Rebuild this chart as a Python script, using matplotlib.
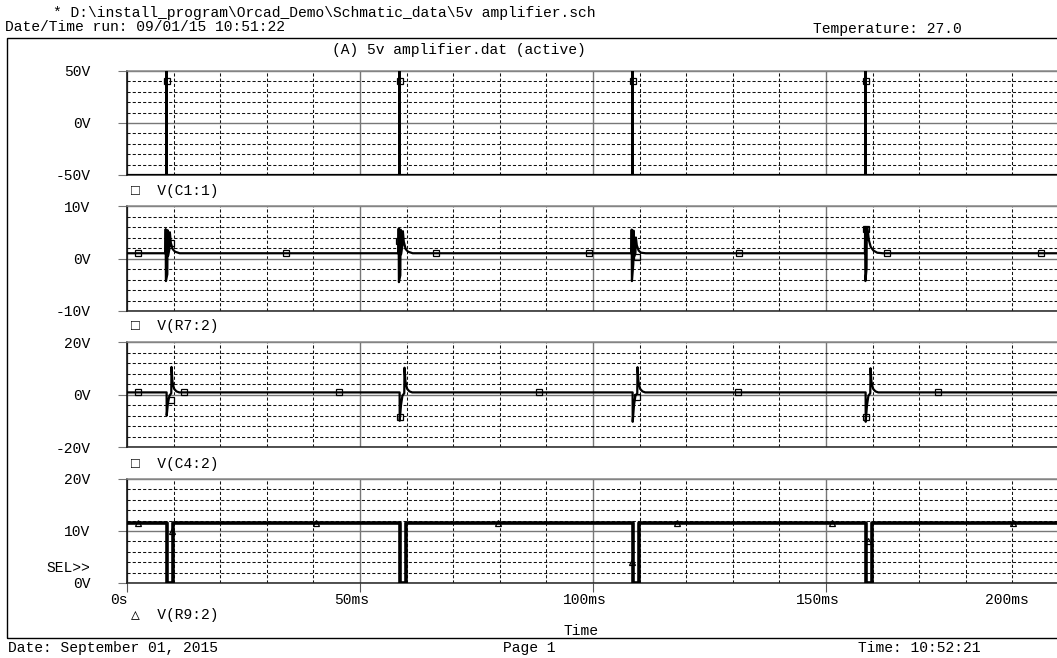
import matplotlib.pyplot as plt
from matplotlib.patches import Rectangle
from matplotlib.transforms import ScaledTranslation

W, H = 1057, 658
plt.rcParams['font.family'] = ['Liberation Mono', 'DejaVu Sans Mono']
plt.rcParams['font.size'] = 10.5

# ---- data (time in ms, volts) ----
# V(C1:1) - narrow pulses
c1_t = [0, 8.45, 8.5, 8.55, 58.45, 58.5, 58.55, 108.45, 108.5, 108.55, 158.45, 158.5, 158.55, 200]
c1_v = [-50, -50, 80, -50, -50, 80, -50, -50, 80, -50, -50, 80, -50, -50]
c1_mk_t = [8.6, 58.6, 108.6, 158.6]
c1_mk_v = [40, 40, 40, 40]

# V(R7:2)
r7_t = [0,
        8.25, 8.3, 8.35, 8.65, 8.7, 8.8, 9.1, 9.2, 9.4, 9.8, 10.3, 11.3,
        58.25, 58.3, 58.35, 58.65, 58.7, 58.8, 59.1, 59.2, 59.4, 59.8, 60.3, 61.3,
        108.25, 108.3, 108.35, 108.65, 108.7, 108.8, 109.1, 109.2, 109.4, 109.8, 110.3, 111.3,
        158.35, 158.4, 158.45, 158.7, 158.75, 158.9, 159.2, 159.6, 160.2, 161.0, 162.2,
        200]
r7_v = [1.0,
        1.0, 5.6, -4.3, -3.0, 5.4, 0.5, 1.8, 5.0, 3.0, 1.8, 1.3, 1.0,
        1.0, 5.7, -4.5, -3.2, 5.5, 0.8, 2.5, 5.2, 3.2, 1.8, 1.3, 1.0,
        1.0, 5.5, -4.3, -1.0, 5.3, 0.3, 1.0, 4.0, 2.5, 1.5, 1.1, 1.0,
        1.0, 6.0, -4.3, -2.0, 5.8, 5.8, 3.5, 2.2, 1.5, 1.1, 1.0,
        1.0]
r7_mk_t = [2.4, 9.4, 34.1, 58.4, 66.3, 99.1, 109.4, 131.3, 158.6, 163.1, 196.1]
r7_mk_v = [1.0, 3.0, 1.0, 3.4, 1.0, 1.0, 0.3, 1.0, 5.7, 1.0, 1.0]

# V(C4:2)
c4_t = [0,
        8.5, 8.52, 8.8, 9.1, 9.5, 9.55, 9.75, 10.1, 10.6, 11.2,
        58.5, 58.52, 58.8, 59.1, 59.5, 59.55, 59.75, 60.1, 60.6, 61.2,
        108.5, 108.52, 108.8, 109.1, 109.5, 109.55, 109.75, 110.1, 110.6, 111.2,
        158.5, 158.52, 158.8, 159.1, 159.5, 159.55, 159.75, 160.1, 160.6, 161.2,
        200]
c4_v = [0.8,
        0.8, -8.0, -3.0, -0.5, 0.5, 10.5, 5.0, 2.2, 1.2, 0.8,
        0.8, -10.0, -4.0, -0.5, 0.5, 10.2, 5.0, 2.2, 1.2, 0.8,
        0.8, -10.4, -4.0, -0.5, 0.5, 10.4, 5.0, 2.2, 1.2, 0.8,
        0.8, -10.4, -4.0, -0.5, 0.5, 10.0, 5.0, 2.2, 1.2, 0.8,
        0.8]
c4_mk_t = [2.4, 9.4, 12.3, 45.5, 58.6, 88.4, 109.4, 131.1, 158.6, 174.0]
c4_mk_v = [0.8, -2.0, 0.8, 0.8, -8.5, 0.8, -0.8, 0.8, -8.5, 0.8]

# V(R9:2)
r9_t = [0, 8.5, 8.5, 9.8, 9.8, 58.5, 58.5, 59.8, 59.8, 108.5, 108.5, 109.8, 109.8,
        158.5, 158.5, 158.6, 158.6, 159.8, 159.8, 200]
r9_v = [11.5, 11.5, 0, 0, 11.5, 11.5, 0, 0, 11.5, 11.5, 0, 0, 11.5,
        11.5, 5.0, 5.0, 0, 0, 11.5, 11.5]
r9_mk_t = [2.4, 9.7, 40.6, 79.6, 108.4, 118.0, 151.3, 159.0, 190.1]
r9_mk_v = [11.5, 10.0, 11.5, 11.5, 4.0, 11.5, 11.5, 8.0, 11.5]

x_ticks = [0, 50, 100, 150, 200]
x_labels = ['0s', '50ms', '100ms', '150ms', '200ms']

panels = [
    # (top px, bottom px, ymin, ymax, major ticks, labels, legend)
    (71, 175, -50, 50, [-50, 0, 50], ['-50V', '0V', '50V']),
    (206, 311, -10, 10, [-10, 0, 10], ['-10V', '0V', '10V']),
    (342, 447, -20, 20, [-20, 0, 20], ['-20V', '0V', '20V']),
    (479, 583, 0, 20, [0, 10, 20], ['0V', '10V', '20V']),
]
series = [
    (c1_t, c1_v, c1_mk_t, c1_mk_v, 's', 1.6),
    (r7_t, r7_v, r7_mk_t, r7_mk_v, 's', 1.6),
    (c4_t, c4_v, c4_mk_t, c4_mk_v, 's', 1.6),
    (r9_t, r9_v, r9_mk_t, r9_mk_v, '^', 2.6),
]

fig = plt.figure(figsize=(W / 100, H / 100), dpi=100)

x0, x1 = 127, 1059
for i, ((top, bot, lo, hi, yt, yl), (t, v, mt, mv, mk, lw)) in enumerate(zip(panels, series)):
    ax = fig.add_axes([x0 / W, 1 - bot / H, (x1 - x0) / W, (bot - top) / H])
    ax.set_xlim(0, 200)
    ax.set_ylim(lo, hi)
    ax.set_xticks(x_ticks)
    ax.set_xticks(range(0, 201, 10), minor=True)
    ax.set_yticks(yt)
    ax.set_yticklabels(yl)
    step = (yt[1] - yt[0]) / 5
    ax.set_yticks([lo + step * k for k in range(int((hi - lo) / step) + 1)], minor=True)
    ax.grid(which='minor', color='#111111', linestyle=(0, (3, 2)), linewidth=0.75)
    ax.grid(which='major', color='#777777', linestyle='-', linewidth=1.0)
    ax.tick_params(which='minor', length=0)
    ax.tick_params(axis='y', which='major', length=6.5, color='#777777', pad=20,
                   labelsize=10.5)
    if i < 3:
        ax.tick_params(axis='x', which='major', length=0, labelbottom=False)
    else:
        ax.tick_params(axis='x', which='major', length=6.5, color='#555555', pad=1,
                       labelsize=10.5)
        ax.set_xticklabels(x_labels)
        for k, lbl in enumerate(ax.get_xticklabels()):
            dx = -8 if k < 4 else -52
            lbl.set_transform(lbl.get_transform() + ScaledTranslation(dx / 100, 0, fig.dpi_scale_trans))
    ax.spines['left'].set_color('black')
    ax.spines['top'].set_color('#888888')
    ax.spines['bottom'].set_color('#222222')
    ax.spines['right'].set_visible(False)
    for s in ax.spines.values():
        s.set_linewidth(1.1)
    ax.plot(t, v, color='black', linewidth=lw, zorder=3)
    ax.plot(mt, mv, linestyle='none', marker=mk, markersize=4.5 if mk == 's' else 4,
            markerfacecolor='none', markeredgecolor='black', markeredgewidth=0.9, zorder=4)


def put(x, y, s, **kw):
    fig.text(x / W, 1 - y / H, s, va='center', fontsize=10.5, **kw)


put(53, 13, r'* D:\install_program\Orcad_Demo\Schmatic_data\5v amplifier.sch')
put(5, 27, 'Date/Time run: 09/01/15 10:51:22')
put(813, 29, 'Temperature: 27.0')
put(459, 50, '(A) 5v amplifier.dat (active)', ha='center')
put(131, 191, '\u25a1  V(C1:1)')
put(131, 326, '\u25a1  V(R7:2)')
put(131, 464, '\u25a1  V(C4:2)')
put(131, 615, '\u25b3  V(R9:2)')
put(46, 568, 'SEL>>')
put(563, 631, 'Time')
put(8, 648, 'Date: September 01, 2015')
put(503, 648, 'Page 1')
put(858, 648, 'Time: 10:52:21')

fig.patches.append(Rectangle((7 / W, 1 - 638 / H), 1.2, (638 - 38) / H, transform=fig.transFigure,
                             fill=False, edgecolor='black', linewidth=1.0))

fig.savefig('out.png', dpi=100)
